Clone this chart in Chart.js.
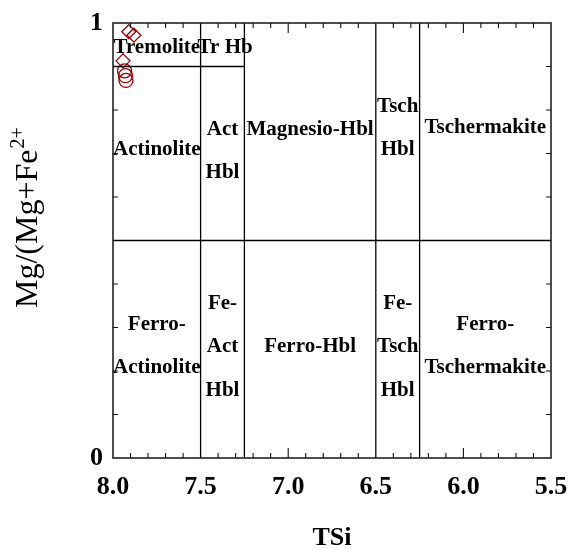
<!DOCTYPE html>
<html>
<head>
<meta charset="utf-8">
<style>
html,body{margin:0;padding:0;background:#ffffff;}
#wrap{width:568px;height:549px;}
</style>
<script src="https://cdn.jsdelivr.net/npm/chart.js@4.4.1/dist/chart.umd.min.js"></script>
</head>
<body>
<div id="wrap"><canvas id="c" width="568" height="549"></canvas></div>
<script>
// ---- data ----
const xTickLabels = [8.0, 7.5, 7.0, 6.5, 6.0, 5.5];
const yTickLabels = [0, 1];
const xMinorTicks = [7.9, 7.8, 7.7, 7.6, 7.4, 7.3, 7.2, 7.1, 6.9, 6.8, 6.7, 6.6, 6.4, 6.3, 6.2, 6.1, 5.9, 5.8, 5.7, 5.6];
const xMajorTicks = [7.0, 6.0];
const yMinorTicks = [0.1, 0.2, 0.3, 0.4, 0.6, 0.7, 0.8, 0.9];

const diamondX = [7.910, 7.881, 7.943];
const diamondY = [0.980, 0.972, 0.913];
const circleX = [7.934, 7.929, 7.926];
const circleY = [0.890, 0.879, 0.868];

const dividerX = [7.5, 7.25, 6.5, 6.25];
const dividerY = [0, 1];
const midLineX = [8.0, 5.5];
const midLineY = [0.5, 0.5];
const tremLineX = [8.0, 7.25];
const tremLineY = [0.9, 0.9];

const labelText = ['Tremolite','Tr Hb','Actinolite','Act','Hbl','Magnesio-Hbl','Tsch','Hbl','Tschermakite',
  'Ferro-','Actinolite','Fe-','Act','Hbl','Ferro-Hbl','Fe-','Tsch','Hbl','Ferro-','Tschermakite'];
const labelX = [7.75, 7.36, 7.75, 7.375, 7.375, 6.875, 6.375, 6.375, 5.875,
  7.75, 7.75, 7.375, 7.375, 7.375, 6.875, 6.375, 6.375, 6.375, 5.875, 5.875];
const labelY = [0.943, 0.943, 0.708, 0.756, 0.657, 0.756, 0.808, 0.708, 0.759,
  0.306, 0.207, 0.356, 0.256, 0.156, 0.256, 0.356, 0.256, 0.156, 0.306, 0.207];

const xTitle = 'TSi';
const yTitleMain = 'Mg/(Mg+Fe';
const yTitleSup = '2+';

// ---- build datasets ----
const lineStyle = {showLine:true, borderColor:'#000', borderWidth:1.3, pointRadius:0, fill:false};
const datasets = [];
dividerX.forEach(v => datasets.push(Object.assign({data: dividerY.map(y => ({x:v, y:y}))}, lineStyle)));
datasets.push(Object.assign({data: midLineX.map((x,i) => ({x:x, y:midLineY[i]}))}, lineStyle));
datasets.push(Object.assign({data: tremLineX.map((x,i) => ({x:x, y:tremLineY[i]}))}, lineStyle));
datasets.push({data: diamondX.map((x,i)=>({x:x,y:diamondY[i]})), pointStyle:'rectRot', pointRadius:7,
  borderColor:'#990000', backgroundColor:'rgba(0,0,0,0)', borderWidth:1.3, showLine:false});
datasets.push({data: circleX.map((x,i)=>({x:x,y:circleY[i]})), pointStyle:'circle', pointRadius:7,
  borderColor:'#990000', backgroundColor:'rgba(0,0,0,0)', borderWidth:1.3, showLine:false});

const SERIF = '"Liberation Serif", "Times New Roman", serif';

const decor = {
  id:'decor',
  afterDatasetsDraw(chart){
    const ctx = chart.ctx, a = chart.chartArea;
    const xs = chart.scales.x, ys = chart.scales.y;
    ctx.save();
    // frame
    ctx.strokeStyle = '#222';
    ctx.lineWidth = 1.6;
    ctx.strokeRect(a.left, a.top, a.right - a.left, a.bottom - a.top);
    // ticks
    ctx.lineWidth = 1.1;
    ctx.strokeStyle = '#111';
    ctx.beginPath();
    xMinorTicks.forEach(v => {
      const p = xs.getPixelForValue(v);
      ctx.moveTo(p, a.bottom); ctx.lineTo(p, a.bottom - 5);
      ctx.moveTo(p, a.top); ctx.lineTo(p, a.top + 5);
    });
    xMajorTicks.forEach(v => {
      const p = xs.getPixelForValue(v);
      ctx.moveTo(p, a.bottom); ctx.lineTo(p, a.bottom - 10);
      ctx.moveTo(p, a.top); ctx.lineTo(p, a.top + 10);
    });
    yMinorTicks.forEach(v => {
      const p = ys.getPixelForValue(v);
      ctx.moveTo(a.left, p); ctx.lineTo(a.left + 5, p);
      ctx.moveTo(a.right, p); ctx.lineTo(a.right - 5, p);
    });
    ctx.stroke();
    // region labels
    ctx.fillStyle = '#000';
    ctx.font = 'bold 21px ' + SERIF;
    ctx.textAlign = 'center';
    ctx.textBaseline = 'middle';
    labelText.forEach((t,i) => {
      ctx.fillText(t, xs.getPixelForValue(labelX[i]), ys.getPixelForValue(labelY[i]));
    });
    // x title
    ctx.font = 'bold 26px ' + SERIF;
    ctx.textBaseline = 'alphabetic';
    ctx.fillText(xTitle, (a.left + a.right)/2, 545);
    // y title (rotated)
    ctx.translate(37, 308);
    ctx.rotate(-Math.PI/2);
    ctx.textAlign = 'left';
    ctx.font = '32px ' + SERIF;
    ctx.fillText(yTitleMain, 0, 0);
    const w = ctx.measureText(yTitleMain).width;
    ctx.font = '20px ' + SERIF;
    ctx.fillText(yTitleSup, w + 1, -13);
    ctx.restore();
  }
};

new Chart(document.getElementById('c'), {
  type:'scatter',
  data:{datasets: datasets},
  options:{
    responsive:false,
    animation:false,
    devicePixelRatio:1,
    layout:{padding:{top:23, right:17, left:0, bottom:0}},
    plugins:{legend:{display:false}, tooltip:{enabled:false}},
    scales:{
      x:{
        type:'linear', reverse:true, min:5.5, max:8,
        afterBuildTicks: s => { s.ticks = xTickLabels.map(v => ({value:v})); },
        afterFit: s => { s.height = 91; s.paddingLeft = 0; s.paddingRight = 0; },
        grid:{display:false, drawTicks:false},
        border:{display:false},
        ticks:{font:{family:SERIF, size:26, weight:'bold'}, color:'#000', padding:14,
          maxRotation:0, autoSkip:false, callback: v => Number(v).toFixed(1)}
      },
      y:{
        type:'linear', min:0, max:1,
        afterBuildTicks: s => { s.ticks = yTickLabels.map(v => ({value:v})); },
        afterFit: s => { s.width = 113; s.paddingTop = 0; s.paddingBottom = 0; },
        grid:{display:false, drawTicks:false},
        border:{display:false},
        ticks:{font:{family:SERIF, size:26, weight:'bold'}, color:'#000', padding:10,
          autoSkip:false, callback: v => String(v)}
      }
    }
  },
  plugins:[decor]
});
</script>
</body>
</html>
